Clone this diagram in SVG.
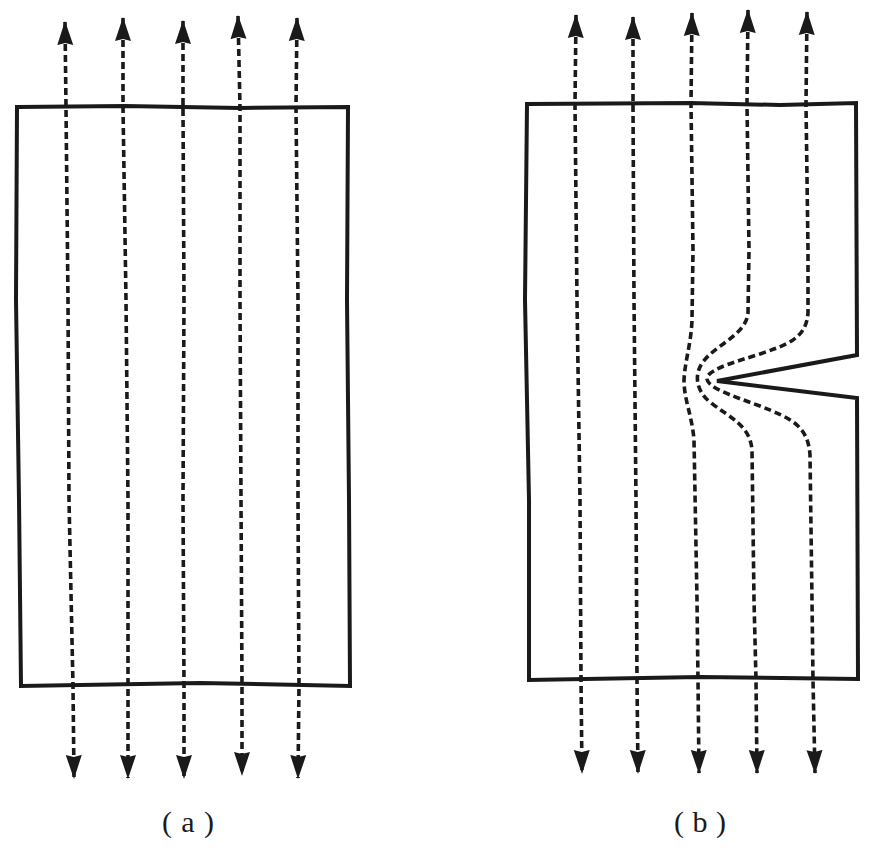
<svg xmlns="http://www.w3.org/2000/svg" width="886" height="857" viewBox="0 0 886 857">
<style>
.frame{fill:none;stroke:#1a1a1a;stroke-width:4;stroke-linejoin:miter}
.flow{fill:none;stroke:#1a1a1a;stroke-width:3.6;stroke-dasharray:7 4;marker-start:url(#ah);marker-end:url(#ah)}
.lbl{font-family:"Liberation Serif",serif;font-size:30px;fill:#1a1a1a;text-anchor:middle}
</style>
<defs>
<marker id="ah" viewBox="0 0 24 18" markerWidth="24" markerHeight="18" refX="23" refY="9" orient="auto-start-reverse" markerUnits="userSpaceOnUse">
<path d="M0,1 L24,9 L0,17 L2,9 z" fill="#1a1a1a"/>
</marker>
</defs>
<rect width="886" height="857" fill="#ffffff"/>
<g id="plate-a">
<path class="frame" d="M17,107 L125,106 L240,108 L348,107 L347,300 L349,500 L350,686 L200,683 L21,686 L19,500 L16,300 Z"/>
</g>
<g id="plate-b">
<path class="frame" d="M527,104 L690,103 L780,105 L856,103 L857,355 L717,381 L857,398 L858,679 L700,677 L529,680 L529,500 L525,300 Z"/>
</g>
<g id="connectors">
<path class="flow" d="M65,22 L66,107 L68,300 L69,500 L73,686 L74,778"/>
<path class="flow" d="M123,18 L123,107 L126,300 L128,500 L128,686 L128,778"/>
<path class="flow" d="M183,21 L183,107 L184,300 L183,500 L184,686 L184,778"/>
<path class="flow" d="M238,16 L240,107 L240,300 L241,500 L242,686 L242,775"/>
<path class="flow" d="M297,18 L296,107 L298,300 L298,500 L299,686 L298,778"/>
<path class="flow" d="M576,15 L575,104 L577,300 L580,500 L581,680 L582,773"/>
<path class="flow" d="M633,17 L633,104 L634,300 L636,500 L637,680 L638,773"/>
<path class="flow" d="M692,13 L691,104 L693,250 L692,320 C691,345 685,360 684,380 C684,400 692,415 694,440 L697,600 L698,680 L699,773"/>
<path class="flow" d="M748,10 L747,104 L749,250 L748,313 C746,335 715,345 703,362 C693,375 697,392 710,402 C730,418 750,425 752,450 L754,600 L756,680 L757,773"/>
<path class="flow" d="M807,12 L806,104 L808,250 L808,313 C806,340 785,345 760,354 C735,362 712,368 707,377 C705,387 730,395 760,406 C790,418 808,425 810,455 L812,600 L813,680 L815,773"/>
</g>
<g id="labels">
<text class="lbl" y="832"><tspan x="167">(</tspan><tspan x="188">a</tspan><tspan x="209">)</tspan></text>
<text class="lbl" y="832"><tspan x="679">(</tspan><tspan x="700">b</tspan><tspan x="721">)</tspan></text>
</g>
</svg>
